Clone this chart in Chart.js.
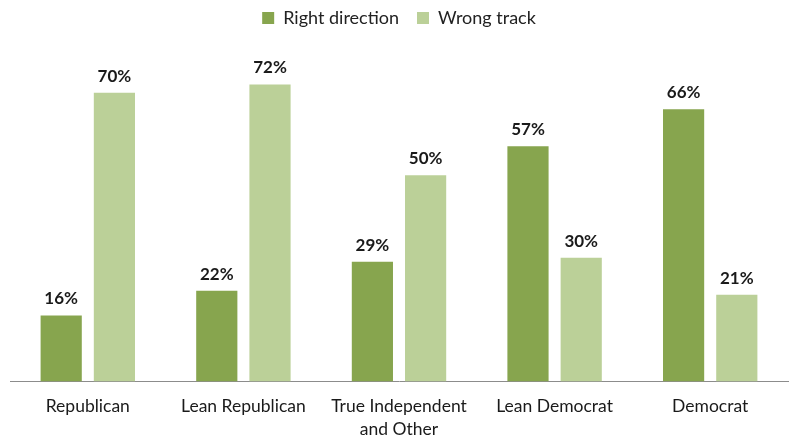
<!DOCTYPE html>
<html><head><meta charset="utf-8">
<script src="https://cdn.jsdelivr.net/npm/chart.js@4/dist/chart.umd.min.js"></script>
<style>html,body{margin:0;padding:0;background:#fff}#wrap{width:800px;height:442px}</style>
</head><body><div id="wrap"><canvas id="c" width="800" height="442"></canvas></div>
<script>
const categories = ["Republican", "Lean Republican", ["True Independent", "and Other"], "Lean Democrat", "Democrat"];
const rightDirection = [16, 22, 29, 57, 66];
const wrongTrack = [70, 72, 50, 30, 21];
const seriesNames = ["Right direction", "Wrong track"];

const FONT = "Lato, 'Open Sans', sans-serif";
const labelPlugin = {
  id: 'valueLabels',
  afterDatasetsDraw(chart) {
    const ctx = chart.ctx;
    ctx.save();
    ctx.font = "bold 17px " + FONT;
    ctx.fillStyle = '#1a1a1a';
    ctx.textAlign = 'center';
    ctx.textBaseline = 'bottom';
    chart.data.datasets.forEach((ds, i) => {
      chart.getDatasetMeta(i).data.forEach((bar, j) => {
        ctx.fillText(ds.data[j] + '%', bar.x, bar.y - 8);
      });
    });
    ctx.restore();
  }
};
Chart.defaults.font.family = FONT;
new Chart(document.getElementById('c'), {
  type: 'bar',
  data: {
    labels: categories,
    datasets: [
      { label: seriesNames[0], data: rightDirection, backgroundColor: '#87a54e' },
      { label: seriesNames[1], data: wrongTrack, backgroundColor: '#bbd098' }
    ]
  },
  options: {
    responsive: false,
    animation: false,
    layout: { padding: { left: 10, right: 12, top: -9, bottom: -12 } },
    plugins: {
      legend: {
        position: 'top',
        labels: { boxWidth: 12, boxHeight: 12, color: '#222', font: { size: 18 }, padding: 18 }
      },
      tooltip: { enabled: false }
    },
    datasets: { bar: { categoryPercentage: 0.684, barPercentage: 0.774 } },
    scales: {
      x: {
        grid: { display: false, drawTicks: false },
        border: { display: true, color: '#8c8c8c', width: 1 },
        ticks: { color: '#1a1a1a', font: { size: 17.5, lineHeight: 1.33 }, padding: 13, maxRotation: 0, autoSkip: false }
      },
      y: {
        display: false, min: 0, max: 83.5
      }
    }
  },
  plugins: [labelPlugin]
});
</script></body></html>
